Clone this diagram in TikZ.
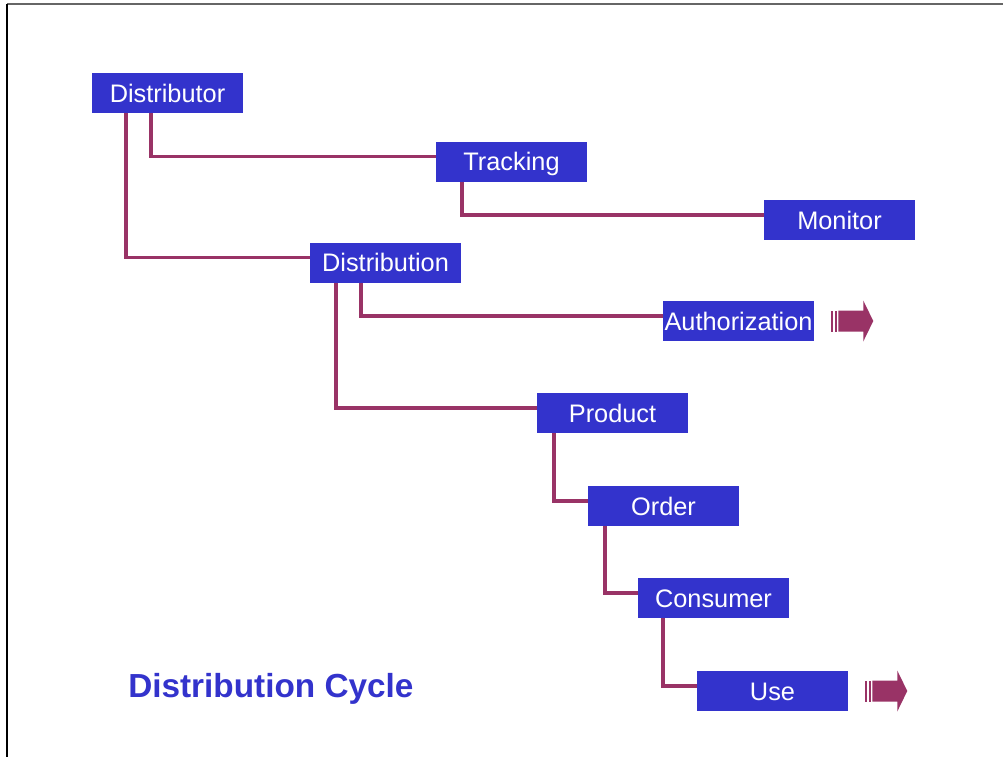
\documentclass[tikz,border=0pt]{standalone}
\usepackage{fontspec}
\setmainfont{Liberation Sans}
\usepackage{tikz}

\definecolor{boxblue}{HTML}{3333CC}
\definecolor{linkred}{HTML}{993366}

% striped block arrow to the right of a node
\newcommand{\stripearrow}[1]{%
  \begin{scope}[shift={(#1.east)}]
    \fill[linkred] (17,-10.5) rectangle (19,10.5);
    \fill[linkred] (20.5,-10.5) rectangle (23,10.5);
    \fill[linkred] (24,-10.5) -- (49,-10.5) -- (49,-20.5) -- (59,0)
      -- (49,20.5) -- (49,10.5) -- (24,10.5) -- cycle;
  \end{scope}}

\begin{document}
\begin{tikzpicture}[x=0.75pt,y=-0.75pt,
    stage/.style={fill=boxblue,text=white,inner sep=0pt,
      minimum width=113.25pt,minimum height=30pt,
      text height=13.5pt,text depth=0pt,
      font=\fontsize{19}{21}\selectfont},
    link/.style={draw=linkred,line width=2.4pt}]
  \useasboundingbox (0,0) rectangle (1005,757);
  \draw[gray!80!black,line width=0.8pt] (7,4) -- (1003,4);
  \draw[black,line width=0.8pt] (7,4) -- (7,757);

  \node[stage] (dist) at (167.5,93) {Distributor};
  \node[stage] (track) at (511.5,161.5) {Tracking};
  \node[stage] (monitor) at (839.5,220) {Monitor};
  \node[stage] (distrib) at (385.5,262.5) {Distribution};
  \node[stage] (auth) at (738.5,321) {Authorization};
  \node[stage] (product) at (612.5,413) {Product};
  \node[stage] (order) at (663.5,506) {Order};
  \node[stage] (consumer) at (713.5,598) {Consumer};
  \node[stage] (use) at (772.5,691) {Use};

  \draw[link] ([xshift=-12.4pt]dist.south) |- ([yshift=3.75pt]track.west);
  \draw[link] ([xshift=-31.1pt]dist.south) |- ([yshift=3.75pt]distrib.west);
  \draw[link] ([xshift=-37.1pt]track.south) |- ([yshift=3.75pt]monitor.west);
  \draw[link] ([xshift=-18.4pt]distrib.south) |- ([yshift=3.75pt]auth.west);
  \draw[link] ([xshift=-37.1pt]distrib.south) |- ([yshift=3.75pt]product.west);
  \draw[link] ([xshift=-43.9pt]product.south) |- ([yshift=3.75pt]order.west);
  \draw[link] ([xshift=-43.9pt]order.south) |- ([yshift=3.75pt]consumer.west);
  \draw[link] ([xshift=-37.9pt]consumer.south) |- ([yshift=3.75pt]use.west);

  \stripearrow{auth}
  \stripearrow{use}

  \node[anchor=base west,inner sep=0pt,text=boxblue,
    font=\fontsize{25}{28}\selectfont\bfseries] (title) at (128,697)
    {Distribution Cycle};
\end{tikzpicture}
\end{document}
